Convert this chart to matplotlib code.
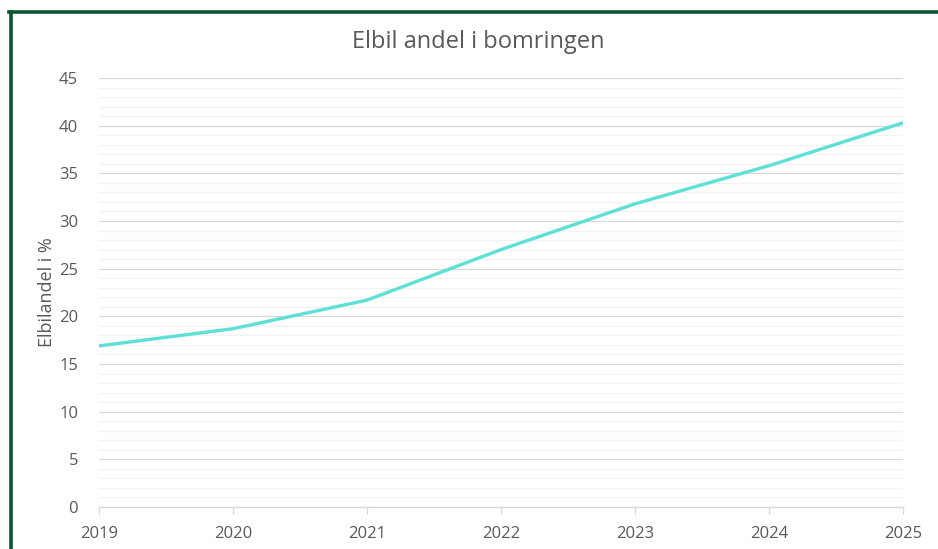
import matplotlib.pyplot as plt
from matplotlib.lines import Line2D
from matplotlib.ticker import MultipleLocator

years = [2019, 2020, 2021, 2022, 2023, 2024, 2025]
share = [16.9, 18.7, 21.7, 27.0, 31.8, 35.8, 40.3]

plt.rcParams['font.family'] = ['Open Sans', 'DejaVu Sans']

fig = plt.figure(figsize=(9.38, 5.49), dpi=100)
ax = fig.add_axes([99 / 938, 1 - 507 / 549, (903 - 99) / 938, (507 - 78) / 549])

ax.plot(years, share, color='#5fe0d6', lw=2.4, solid_capstyle='round', zorder=3)

ax.set_xlim(2019, 2025)
ax.set_ylim(0, 45)
ax.yaxis.set_major_locator(MultipleLocator(5))
ax.yaxis.set_minor_locator(MultipleLocator(1))
ax.set_xticks(years)

ax.grid(axis='y', which='major', color='#d9d9d9', lw=0.9)
ax.grid(axis='y', which='minor', color='#f2f2f2', lw=0.9)
ax.set_axisbelow(True)

for s in ['top', 'right', 'left']:
    ax.spines[s].set_visible(False)
ax.spines['bottom'].set_color('#d9d9d9')
ax.spines['bottom'].set_linewidth(0.9)

ax.tick_params(axis='y', which='both', length=0, pad=15, labelsize=12, labelcolor='#595959')
ax.tick_params(axis='x', length=5, color='#d9d9d9', width=0.9, pad=9, labelsize=12, labelcolor='#595959')

ax.set_ylabel('Elbilandel i %', fontsize=13, color='#595959', labelpad=2)
fig.text(478 / 938, 1 - 42 / 549, 'Elbil andel i bomringen', ha='center', va='center',
         fontsize=17, color='#595959')

# dark green frame on the left and top
fig.add_artist(Line2D([10.5 / 938, 10.5 / 938], [0, 1 - 11.5 / 549], transform=fig.transFigure,
                      color='#0b5530', lw=2.6))
fig.add_artist(Line2D([9 / 938, 1], [1 - 11.5 / 549, 1 - 11.5 / 549], transform=fig.transFigure,
                      color='#0b5530', lw=2.6))

fig.savefig('out.png', dpi=100)
